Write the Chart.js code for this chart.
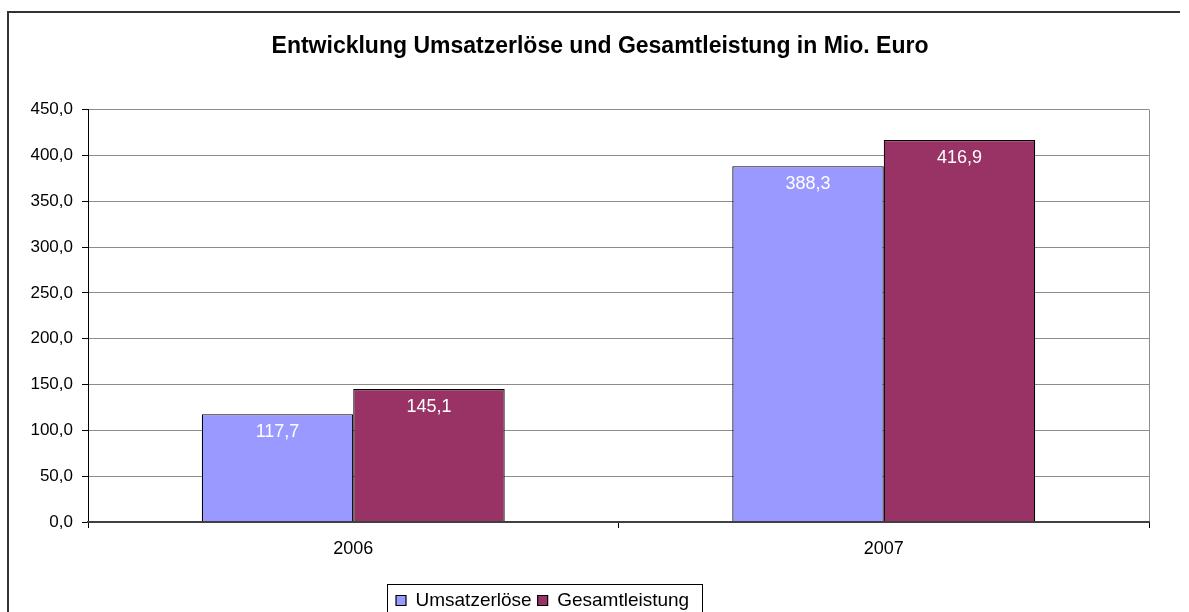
<!DOCTYPE html>
<html lang="de">
<head>
<meta charset="utf-8">
<title>Entwicklung Umsatzerlöse und Gesamtleistung</title>
<script src="https://cdn.jsdelivr.net/npm/chart.js@4.4.0/dist/chart.umd.min.js"></script>
<style>
  html, body { margin: 0; padding: 0; background: #fff; overflow: hidden; }
  #wrap { width: 1189px; height: 620px; }
</style>
</head>
<body>
<div id="wrap"><canvas id="umsatzChart" width="1189" height="620"></canvas></div>
<script>
// ===================================
// Umsatzerlöse / Gesamtleistung in Mio. Euro
// ===================================

// Daten
const jahre = ['2006', '2007'];
const umsatzerloese = [117.7, 388.3];
const gesamtleistung = [145.1, 416.9];
const serienNamen = ['Umsatzerlöse', 'Gesamtleistung'];
const yAchse = { min: 0, max: 450, schritt: 50 };

const schrift = "'Liberation Sans', Arial, sans-serif";

// Zahl im deutschen Format (Komma)
function formatDE(v) {
    return Number(v).toFixed(1).replace('.', ',');
}

// Rahmen, Datenbeschriftung, Legendenrahmen
const rahmenPlugin = {
    id: 'rahmen',
    afterLayout(chart) {
        // Titel auf die Seitenmitte
        const t = chart.titleBlock;
        if (t) { t.left = 0; t.right = 1200; }
        // Legende etwas nach links wie im Original
        const lg = chart.legend;
        const w = lg.right - lg.left;
        lg.left = 390;
        lg.right = 390 + w;
    },
    beforeDraw(chart) {
        const ctx = chart.ctx;
        ctx.save();
        ctx.strokeStyle = '#333';
        ctx.lineWidth = 2;
        ctx.beginPath();
        ctx.moveTo(8, chart.height + 5);
        ctx.lineTo(8, 12);
        ctx.lineTo(1180, 12);
        ctx.stroke();
        ctx.restore();
    },
    afterDatasetsDraw(chart) {
        const ctx = chart.ctx;
        const area = chart.chartArea;
        ctx.save();
        // rechter Rand der Zeichenfläche
        ctx.strokeStyle = '#8c8c8c';
        ctx.lineWidth = 1;
        ctx.beginPath();
        ctx.moveTo(Math.round(area.right) + 0.5, area.top);
        ctx.lineTo(Math.round(area.right) + 0.5, area.bottom);
        ctx.stroke();

        // Werte in die Balken
        ctx.font = '18px ' + schrift;
        ctx.fillStyle = '#fff';
        ctx.textAlign = 'center';
        ctx.textBaseline = 'middle';
        chart.data.datasets.forEach((ds, i) => {
            chart.getDatasetMeta(i).data.forEach((bar, j) => {
                ctx.fillText(formatDE(ds.data[j]), bar.x, bar.y + 18);
            });
        });
        ctx.restore();
    },
    afterDraw(chart) {
        const lg = chart.legend;
        const pad = lg.options.labels.padding;
        const start = lg.left + pad;
        const ende = start + lg.lineWidths[0] - pad;
        const ctx = chart.ctx;
        ctx.save();
        ctx.strokeStyle = '#000';
        ctx.lineWidth = 1;
        ctx.strokeRect(Math.round(start - 9) + 0.5, 584.5, Math.round(ende - start + 22), 60);
        ctx.restore();
    }
};

const umsatzChart = new Chart(document.getElementById('umsatzChart'), {
    type: 'bar',
    data: {
        labels: jahre,
        datasets: [
            {
                label: serienNamen[0],
                data: umsatzerloese,
                backgroundColor: '#9999ff',
                borderColor: '#000',
                borderWidth: 1.2,
                categoryPercentage: 0.571,
                barPercentage: 1.0
            },
            {
                label: serienNamen[1],
                data: gesamtleistung,
                backgroundColor: '#993366',
                borderColor: '#000',
                borderWidth: 1.2,
                categoryPercentage: 0.571,
                barPercentage: 1.0
            }
        ]
    },
    options: {
        responsive: false,
        maintainAspectRatio: false,
        animation: false,
        devicePixelRatio: 1,
        layout: { padding: { left: 0, right: 40, top: 0, bottom: 0 } },
        plugins: {
            title: {
                display: true,
                text: 'Entwicklung Umsatzerlöse und Gesamtleistung in Mio. Euro',
                color: '#000',
                font: { family: schrift, size: 23, weight: 'bold' },
                padding: { top: 33, bottom: 49 }
            },
            legend: {
                position: 'bottom',
                align: 'start',
                labels: {
                    color: '#000',
                    font: { family: schrift, size: 19 },
                    boxWidth: 10,
                    boxHeight: 10,
                    padding: 6
                }
            },
            tooltip: { enabled: false }
        },
        scales: {
            x: {
                ticks: {
                    color: '#000',
                    font: { family: schrift, size: 18 },
                    padding: 10
                },
                grid: {
                    offset: true,
                    drawOnChartArea: false,
                    drawTicks: true,
                    tickLength: 6,
                    tickColor: '#000'
                },
                border: { color: '#404040', width: 2, z: 1 },
                afterFit(scale) { scale.height = 63; }
            },
            y: {
                min: yAchse.min,
                max: yAchse.max,
                ticks: {
                    stepSize: yAchse.schritt,
                    color: '#000',
                    font: { family: schrift, size: 17 },
                    padding: 9,
                    callback: function(value) { return formatDE(value); }
                },
                grid: {
                    color: '#8c8c8c',
                    lineWidth: 1,
                    tickColor: '#000',
                    tickLength: 6
                },
                border: { color: '#000', width: 1 },
                afterFit(scale) { scale.width = 88; }
            }
        }
    },
    plugins: [rahmenPlugin]
});
</script>
</body>
</html>
